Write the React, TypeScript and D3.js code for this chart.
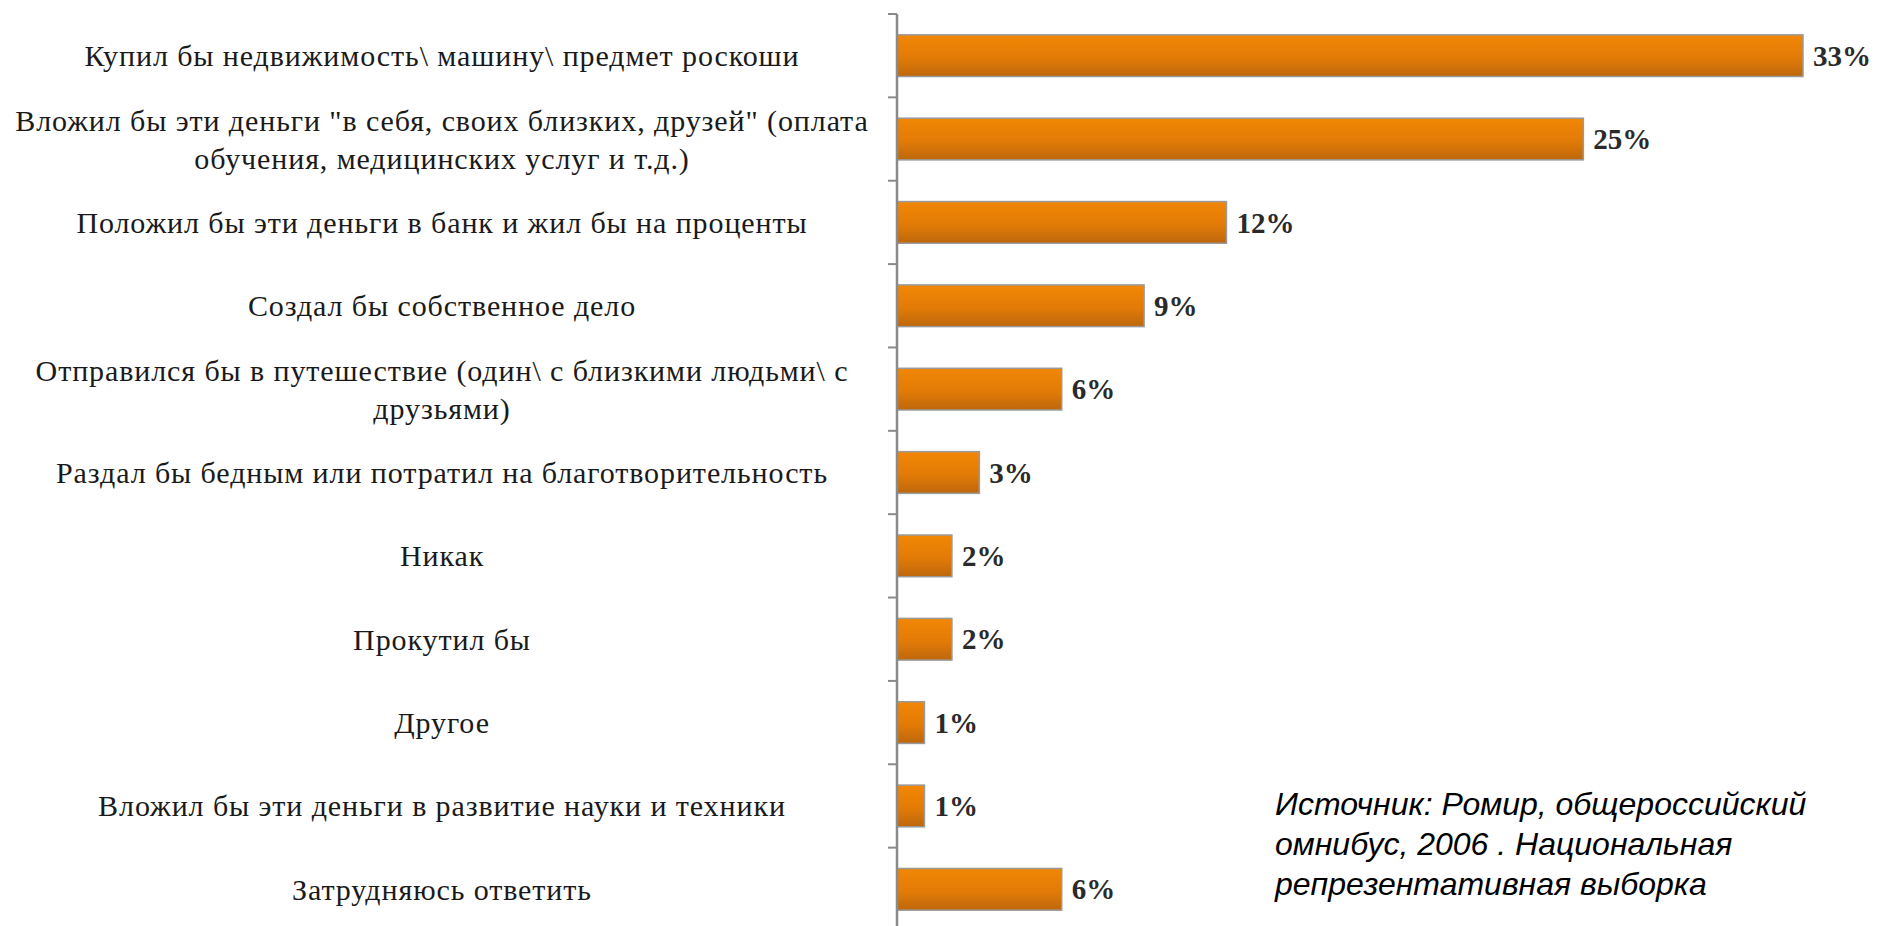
import React from "react";
import * as d3 from "d3";

const categories: string[] = [
  "Купил бы недвижимость\\ машину\\ предмет роскоши",
  "Вложил бы эти деньги \"в себя, своих близких, друзей\" (оплата\nобучения, медицинских услуг и т.д.)",
  "Положил бы эти деньги в банк и жил бы на проценты",
  "Создал бы собственное дело",
  "Отправился бы в путешествие (один\\ с близкими людьми\\ с\nдрузьями)",
  "Раздал бы бедным или потратил на благотворительность",
  "Никак",
  "Прокутил бы",
  "Другое",
  "Вложил бы эти деньги в развитие науки и техники",
  "Затрудняюсь ответить",
];

const values: number[] = [33, 25, 12, 9, 6, 3, 2, 2, 1, 1, 6];

const sourceLines: string[] = [
  "Источник: Ромир, общероссийский",
  "омнибус, 2006 . Национальная",
  "репрезентативная выборка",
];

const W = 1881;
const H = 926;

export default function App() {
  const axisX = 897;
  const y = d3
    .scaleBand<string>()
    .domain(categories)
    .range([14, 931])
    .paddingInner(0.5)
    .paddingOuter(0.25);
  const x = d3.scaleLinear().domain([0, 33]).range([axisX, 1803]);
  const step = y.step();
  const top = 14;
  const ticks = d3.range(categories.length + 1).map((k) => top + k * step);
  const labelCx = 442;
  const lineH = 38;

  return (
    <svg
      width={W}
      height={H}
      style={{ position: "absolute", left: 0, top: 0, background: "#fff" }}
    >
      <defs>
        <linearGradient id="barGrad" x1="0" y1="0" x2="0" y2="1">
          <stop offset="0%" stopColor="#F28705" />
          <stop offset="55%" stopColor="#E27B07" />
          <stop offset="100%" stopColor="#BD670C" />
        </linearGradient>
      </defs>
      <rect x={0} y={0} width={W} height={H} fill="#fff" />
      {/* bars */}
      {categories.map((c, i) => (
        <rect
          key={"b" + i}
          x={axisX}
          y={y(c)!}
          width={x(values[i]) - axisX}
          height={y.bandwidth()}
          fill="url(#barGrad)"
          stroke="#9a9a9a"
          strokeWidth={1.5}
        />
      ))}
      {/* axis */}
      <line x1={axisX} x2={axisX} y1={top} y2={H} stroke="#8a8a8a" strokeWidth={2.5} />
      {ticks.map((t, i) => (
        <line key={"t" + i} x1={axisX - 9} x2={axisX} y1={t} y2={t} stroke="#8a8a8a" strokeWidth={2} />
      ))}
      {/* value labels */}
      {categories.map((c, i) => (
        <text
          key={"v" + i}
          x={x(values[i]) + 10}
          y={y(c)! + y.bandwidth() / 2}
          dy="0.35em"
          fontFamily="'Liberation Serif', 'Times New Roman', serif"
          fontWeight="bold"
          fontSize={29}
          fill="#2a2a2a"
        >
          {values[i] + "%"}
        </text>
      ))}
      {/* category labels */}
      {categories.map((c, i) => {
        const lines = c.split("\n");
        const cy = y(c)! + y.bandwidth() / 2;
        const startY = cy - ((lines.length - 1) * lineH) / 2;
        return (
          <text
            key={"c" + i}
            x={labelCx}
            textAnchor="middle"
            fontFamily="'Liberation Serif', 'Times New Roman', serif"
            fontSize={30}
            letterSpacing={0.9}
            fill="#1a1a1a"
          >
            {lines.map((l, j) => (
              <tspan key={j} x={labelCx} y={startY + j * lineH} dy="0.35em">
                {l}
              </tspan>
            ))}
          </text>
        );
      })}
      {/* source note */}
      <text
        fontFamily="'Liberation Sans', Arial, sans-serif"
        fontStyle="italic"
        fontSize={32}
        fill="#000"
      >
        {sourceLines.map((l, j) => (
          <tspan key={j} x={1275} y={815 + j * 40}>
            {l}
          </tspan>
        ))}
      </text>
    </svg>
  );
}
